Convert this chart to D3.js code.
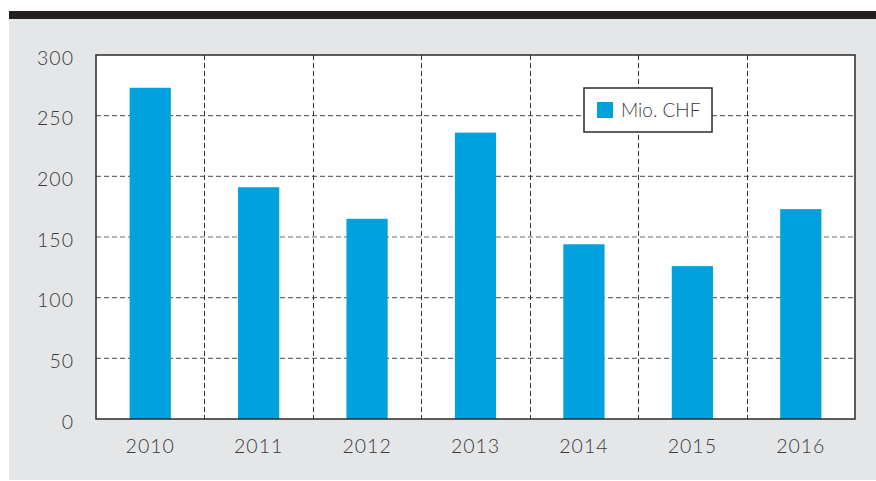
<!DOCTYPE html>
<html>
<head>
<meta charset="utf-8">
<script src="https://cdn.jsdelivr.net/npm/d3@7"></script>
<style>
  body { margin: 0; background: #fff; }
  text { font-family: "Lato", "Open Sans", sans-serif; font-weight: 300; fill: #3a3a3a; }
</style>
</head>
<body>
<script>
var years = ["2010", "2011", "2012", "2013", "2014", "2015", "2016"];
var values = [273, 191, 165, 236, 144, 126, 173];
var yTicks = [0, 50, 100, 150, 200, 250, 300];
var seriesName = "Mio. CHF";

var width = 876, height = 481;
var margin = {top: 55, right: 21, bottom: 62, left: 96};

var svg = d3.select("body").append("svg")
    .attr("width", width)
    .attr("height", height);

// grey panel + dark strip on top
svg.append("rect")
    .attr("x", 9).attr("y", 19)
    .attr("width", width - 9).attr("height", height - 20)
    .attr("fill", "#e5e6e8");
svg.append("rect")
    .attr("x", 9).attr("y", 11)
    .attr("width", width - 9).attr("height", 8)
    .attr("fill", "#231f20");

var x = d3.scaleBand()
    .domain(years)
    .range([margin.left, width - margin.right])
    .paddingInner(0.62).paddingOuter(0.31);

var xg = d3.scaleBand()
    .domain(years)
    .range([margin.left, width - margin.right]);

var y = d3.scaleLinear()
    .domain([0, 300])
    .range([height - margin.bottom, margin.top]);

svg.append("rect")
    .attr("x", margin.left).attr("y", margin.top)
    .attr("width", width - margin.left - margin.right)
    .attr("height", height - margin.top - margin.bottom)
    .attr("fill", "#fff");

// horizontal grid
svg.append("g")
  .selectAll("line")
  .data(yTicks.slice(1, -1))
  .enter().append("line")
    .attr("x1", margin.left).attr("x2", width - margin.right)
    .attr("y1", function(d) { return y(d); })
    .attr("y2", function(d) { return y(d); })
    .attr("stroke", "#6d6d6d")
    .attr("stroke-width", 1.2)
    .attr("stroke-dasharray", "5,3");

// vertical grid at band edges
svg.append("g")
  .selectAll("line")
  .data(years.slice(1))
  .enter().append("line")
    .attr("x1", function(d) { return Math.round(xg(d)) + 0.5; })
    .attr("x2", function(d) { return Math.round(xg(d)) + 0.5; })
    .attr("y1", margin.top).attr("y2", height - margin.bottom)
    .attr("stroke", "#333")
    .attr("stroke-width", 1)
    .attr("stroke-dasharray", "5,3");

// bars
svg.append("g")
  .selectAll("rect")
  .data(values)
  .enter().append("rect")
    .attr("x", function(d, i) { return x(years[i]); })
    .attr("y", function(d) { return y(d); })
    .attr("width", x.bandwidth())
    .attr("height", function(d) { return y(0) - y(d); })
    .attr("fill", "#00a1dc");

// frame
svg.append("rect")
    .attr("x", margin.left).attr("y", margin.top)
    .attr("width", width - margin.left - margin.right)
    .attr("height", height - margin.top - margin.bottom)
    .attr("fill", "none")
    .attr("stroke", "#2a2a2a")
    .attr("stroke-width", 1.5);

// y axis labels
var yAxis = d3.axisLeft(y).tickValues(yTicks).tickSize(0).tickPadding(22);
var ya = svg.append("g")
    .attr("transform", "translate(" + margin.left + ",3)")
    .call(yAxis);
ya.select(".domain").remove();
ya.selectAll("text")
    .style("font-size", "19.5px")
    .style("font-family", "Lato, sans-serif")
    .style("letter-spacing", "1px")
    .attr("fill", "#3a3a3a");

// x axis labels
var xAxis = d3.axisBottom(xg).tickSize(0).tickPadding(20);
var xa = svg.append("g")
    .attr("transform", "translate(0," + (height - margin.bottom) + ")")
    .call(xAxis);
xa.select(".domain").remove();
xa.selectAll("text")
    .style("font-size", "19.5px")
    .style("font-family", "Lato, sans-serif")
    .style("letter-spacing", "1px")
    .attr("fill", "#3a3a3a");

// legend
var lg = svg.append("g").attr("transform", "translate(584,88)");
lg.append("rect")
    .attr("width", 128).attr("height", 44)
    .attr("fill", "#fff")
    .attr("stroke", "#2a2a2a")
    .attr("stroke-width", 1.5);
lg.append("rect")
    .attr("x", 13).attr("y", 14)
    .attr("width", 16).attr("height", 16)
    .attr("fill", "#00a1dc");
lg.append("text")
    .attr("x", 37).attr("y", 29)
    .style("font-size", "19px")
    .text(seriesName);
</script>
</body>
</html>
